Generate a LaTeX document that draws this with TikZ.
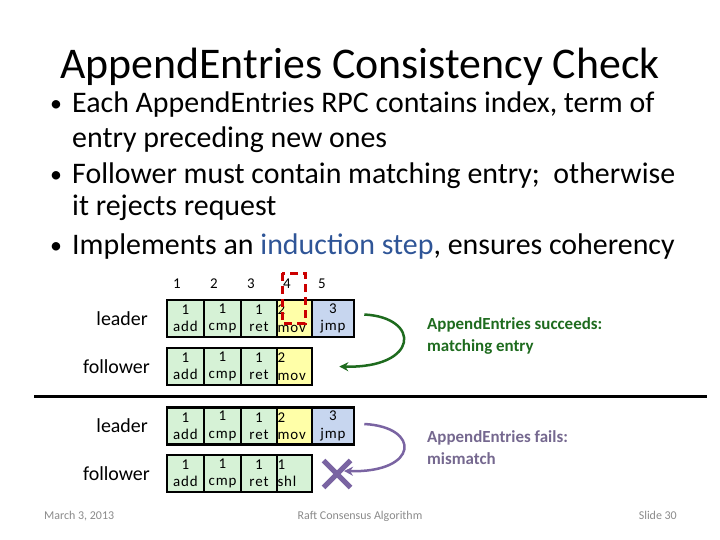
\documentclass[tikz,border=0pt]{standalone}
\usepackage{fontspec}
\setmainfont{Carlito}
\newfontfamily\cellfont[LetterSpace=6]{Carlito}
\usetikzlibrary{positioning,arrows.meta,calc,shapes.misc}
\definecolor{cellgreen}{HTML}{D6F2D6}
\definecolor{cellyellow}{HTML}{FFFFA8}
\definecolor{cellblue}{HTML}{C7D6EF}
\definecolor{okgreen}{HTML}{1E6B1E}
\definecolor{badpurple}{HTML}{7A64A2}
\definecolor{badtext}{HTML}{75688F}
\definecolor{stepblue}{HTML}{2F5597}
\definecolor{footgray}{HTML}{8A8A8A}
\tikzset{
  logcell/.style={draw=black, line width=2.6bp, minimum height=37bp, inner sep=0pt,
    align=center, font=\cellfont\fontsize{15}{17.5}\selectfont},
  shiftcell/.style={logcell, align=left, text width=34bp, inner xsep=0.5bp, minimum width=35bp},
  rolelabel/.style={anchor=east, inner sep=0pt, font=\fontsize{20}{24}\selectfont},
  idxlabel/.style={anchor=base, inner sep=0pt, font=\fontsize{15}{16}\selectfont},
  bulletline/.style={anchor=base west, inner sep=0pt, font=\fontsize{30}{34}\selectfont},
  sidenote/.style={anchor=north west, inner sep=0pt, align=left,
    font=\fontsize{17}{22.5}\selectfont\bfseries},
  foottext/.style={anchor=base, inner sep=0pt, text=footgray, font=\fontsize{12}{14}\selectfont},
}
\begin{document}
\begin{tikzpicture}[x=1bp, y=-1bp]
  \useasboundingbox (0,0) rectangle (720,540);

  % Titel und Punkte
  \node[anchor=base, inner sep=0pt, font=\fontsize{44}{50}\selectfont] (title) at (360,79)
    {AppendEntries Consistency Check};
  \node[bulletline, font=\fontsize{24}{30}\selectfont] (dot1) at (50,112) {•};
  \node[bulletline] (b1a) at (72,113) {Each AppendEntries RPC contains index, term of};
  \node[bulletline] (b1b) at (72,148) {entry preceding new ones};
  \node[bulletline, font=\fontsize{24}{30}\selectfont] (dot2) at (50,183) {•};
  \node[bulletline] (b2a) at (72,184) {Follower must contain matching entry;\ \ otherwise};
  \node[bulletline] (b2b) at (72,216) {it rejects request};
  \node[bulletline, font=\fontsize{24}{30}\selectfont] (dot3) at (50,254) {•};
  \node[bulletline] (b3a) at (72,255) {Implements an \textcolor{stepblue}{induction step}, ensures coherency};

  % Indizes
  \foreach \ix/\n in {177/1, 214/2, 251/3, 287/4, 322/5}
    \node[idxlabel] (idx\n) at (\ix,288) {\n};

  % Logs: die ersten drei Eintraege sind ueberall gleich
  \foreach \rw/\yy in {1/318.5, 2/366.5, 3/426, 4/473.5}
    \foreach \cx/\w/\op [count=\i] in {185.5/37/add, 222.5/37/cmp, 259/36/ret}
      \node[logcell, fill=cellgreen, minimum width=\w bp] (r\rw c\i) at (\cx,\yy) {1\\\op};

  \node[shiftcell, fill=cellyellow] (r1c4) at (294.5,318.5) {2\\mov};
  \node[shiftcell, fill=cellyellow] (r2c4) at (294.5,366.5) {2\\mov};
  \node[shiftcell, fill=cellyellow] (r3c4) at (294.5,426) {2\\mov};
  \node[shiftcell, fill=cellgreen] (r4c4) at (294.5,473.5) {1\\shl};
  \node[logcell, fill=cellblue, minimum width=42bp] (r1c5) at (333,318.5) {3\\jmp};
  \node[logcell, fill=cellblue, minimum width=42bp] (r3c5) at (333,426) {3\\jmp};

  % Rollen
  \node[rolelabel] (lead1) at (148,318.5) {leader};
  \node[rolelabel] (foll1) at (150,366.5) {follower};
  \node[rolelabel] (lead2) at (148,426) {leader};
  \node[rolelabel] (foll2) at (150,473.5) {follower};

  % gestrichelte Markierung bei Index 4
  \draw[draw=red!80!black, line width=3bp, dash pattern=on 8bp off 5bp] (282,273) rectangle (305,323);

  % Trennlinie
  \coordinate (sepl) at (34,396);
  \coordinate (sepr) at (707,396);
  \draw[line width=3bp] (sepl) -- (sepr);

  % Erfolg
  \coordinate (okfrom) at ($(r1c5.east)+(9,-4)$);
  \coordinate (okto) at ($(r2c4.east)+(26,0)$);
  \draw[okgreen, line width=2.5bp, -{Stealth[length=9bp,width=9bp]}]
    (okfrom) .. controls +(57,3) and +(80,2) .. (okto);
  \node[sidenote, text=okgreen] (okmsg) at (427,317) {AppendEntries succeeds:\\matching entry};

  % Fehlschlag
  \node[cross out, draw=badpurple, line width=5bp, minimum size=22bp, inner sep=0pt] (xmark) at (337,474) {};
  \coordinate (badfrom) at ($(r3c5.east)+(9,-2)$);
  \coordinate (badto) at ($(xmark)+(7,-3)$);
  \draw[badpurple, line width=2.5bp, -{Stealth[length=9bp,width=9bp]}]
    (badfrom) .. controls +(57,3) and +(75,2) .. (badto);
  \node[sidenote, text=badtext] (badmsg) at (427,430) {AppendEntries fails:\\mismatch};

  % Fusszeile
  \node[foottext, anchor=base west] (date) at (44,519) {March 3, 2013};
  \node[foottext] (talk) at (360,519) {Raft Consensus Algorithm};
  \node[foottext, anchor=base east] (slide) at (677,519) {Slide 30};
\end{tikzpicture}
\end{document}
